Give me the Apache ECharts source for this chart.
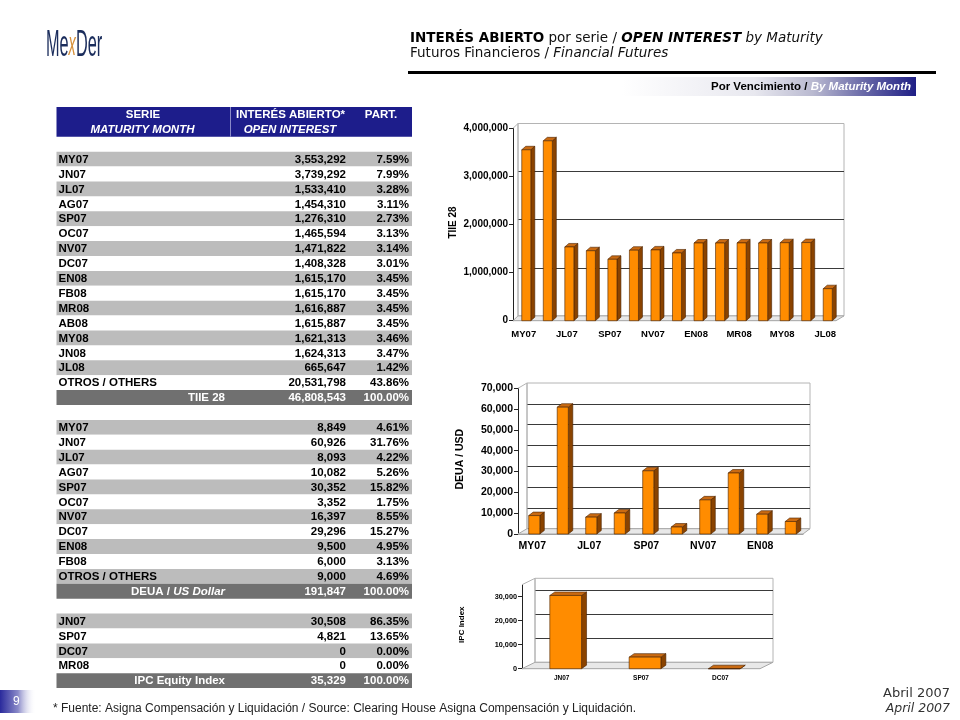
<!DOCTYPE html>
<html><head><meta charset="utf-8">
<script src="https://cdn.jsdelivr.net/npm/echarts@6.0.0/dist/echarts.min.js"></script>
<style>html,body{margin:0;padding:0;background:#fff}#c{width:960px;height:720px}</style>
</head><body><div id="c"></div>
<script>
// ---------- DATA ----------
const tiieSeries = ['MY07','JN07','JL07','AG07','SP07','OC07','NV07','DC07','EN08','FB08','MR08','AB08','MY08','JN08','JL08'];
const tiieValues = [3553292,3739292,1533410,1454310,1276310,1465594,1471822,1408328,1615170,1615170,1616887,1615887,1621313,1624313,665647];
const tiiePart = ['7.59%','7.99%','3.28%','3.11%','2.73%','3.13%','3.14%','3.01%','3.45%','3.45%','3.45%','3.45%','3.46%','3.47%','1.42%'];
const tiieOthers = [20531798, '43.86%'];
const tiieTotal = [46808543, '100.00%'];

const deuaSeries = ['MY07','JN07','JL07','AG07','SP07','OC07','NV07','DC07','EN08','FB08'];
const deuaValues = [8849,60926,8093,10082,30352,3352,16397,29296,9500,6000];
const deuaPart = ['4.61%','31.76%','4.22%','5.26%','15.82%','1.75%','8.55%','15.27%','4.95%','3.13%'];
const deuaOthers = [9000, '4.69%'];
const deuaTotal = [191847, '100.00%'];

const ipcSeries = ['JN07','SP07','DC07','MR08'];
const ipcValues = [30508,4821,0,0];
const ipcPart = ['86.35%','13.65%','0.00%','0.00%'];
const ipcTotal = [35329, '100.00%'];
const ipcChartSeries = ['JN07','SP07','DC07'];
const ipcChartValues = [30508,4821,0];

const tiieAxis = {max: 4000000, interval: 1000000};
const deuaAxis = {max: 70000, interval: 10000};
const ipcAxis = {max: 35000, interval: 10000};

// ---------- HELPERS ----------
const SANS = 'Liberation Sans, Arial, sans-serif';
const VERD = 'DejaVu Sans, Verdana, sans-serif';
const fmt = v => Number(v).toLocaleString('en-US');
const g = [];

function text(x, y, str, o) {
  o = o || {};
  g.push({
    type: 'text', x: x, y: y, silent: true, z: o.z || 5,
    rotation: o.rotation || 0, scaleX: o.scaleX || 1,
    style: Object.assign({
      text: str, fill: o.fill || '#000', fontSize: o.size || 11.5,
      fontFamily: o.family || SANS, fontWeight: o.weight || 'normal',
      fontStyle: o.style || 'normal',
      align: o.align || 'left', verticalAlign: o.valign || 'middle'
    }, o.rich ? {rich: o.rich} : {})
  });
}

// ---------- HEADER ----------
text(46, 46, '{m|Me}{x|x}{m|Der}', {scaleX: 0.44, rich: {
  m: {fill: '#1b2d5c', fontSize: 37, fontFamily: SANS},
  x: {fill: '#d7913c', fontSize: 33, fontFamily: SANS, fontStyle: 'italic'}
}});
const TS = 13.5;
const titleRich = {
  b: {fontFamily: VERD, fontSize: TS, fontWeight: 'bold', fill: '#000'},
  n: {fontFamily: VERD, fontSize: TS, fill: '#111'},
  bi: {fontFamily: VERD, fontSize: TS, fontWeight: 'bold', fontStyle: 'italic', fill: '#000'},
  i: {fontFamily: VERD, fontSize: TS, fontStyle: 'italic', fill: '#111'}
};
text(410, 38, '{b|INTERÉS ABIERTO}{n| por serie / }{bi|OPEN INTEREST}{i| by Maturity}', {rich: titleRich});
text(410, 53, '{n|Futuros Financieros / }{i|Financial Futures}', {rich: titleRich});
g.push({type: 'rect', silent: true, shape: {x: 408, y: 71, width: 528, height: 3}, style: {fill: '#000'}});

g.push({type: 'rect', silent: true, shape: {x: 622, y: 77, width: 294, height: 19}, style: {
  fill: {type: 'linear', x: 0, y: 0, x2: 1, y2: 0, colorStops: [
    {offset: 0, color: '#ffffff'}, {offset: 0.45, color: '#e8e8ef'}, {offset: 0.65, color: '#b9b9d0'},
    {offset: 0.82, color: '#6a6aa8'}, {offset: 1, color: '#1f1f86'}]}
}});
text(911, 86.5, '{a|Por Vencimiento / }{b|By Maturity Month}', {align: 'right', rich: {
  a: {fontFamily: SANS, fontSize: 11.5, fontWeight: 'bold', fill: '#000'},
  b: {fontFamily: SANS, fontSize: 11.5, fontWeight: 'bold', fontStyle: 'italic', fill: '#fff'}
}});

// ---------- TABLE ----------
const T = {x0: 56.5, x1: 412, top: 107, h: 14.9, labelX: 58.5, valX: 346, partX: 409, totX: 225};
const rowY = i => T.top + i * T.h;
function band(i, fill) {
  g.push({type: 'rect', silent: true, shape: {x: T.x0, y: rowY(i), width: T.x1 - T.x0, height: T.h}, style: {fill: fill}});
}
// header
g.push({type: 'rect', silent: true, shape: {x: T.x0, y: rowY(0), width: T.x1 - T.x0, height: 2 * T.h}, style: {fill: '#1d1d8b'}});
g.push({type: 'line', silent: true, shape: {x1: 230.5, y1: rowY(0), x2: 230.5, y2: rowY(2)}, style: {stroke: '#8a8ac8', lineWidth: 1}});
const hw = {fill: '#fff', weight: 'bold', size: 11.5};
text(143, 115, 'SERIE', Object.assign({align: 'center'}, hw));
text(142.5, 129.5, 'MATURITY MONTH', Object.assign({align: 'center', style: 'italic'}, hw));
text(236, 115, 'INTERÉS ABIERTO*', hw);
text(290, 129.5, 'OPEN INTEREST', Object.assign({align: 'center', style: 'italic'}, hw));
text(381, 115, 'PART.', Object.assign({align: 'center'}, hw));

const rowFont = {weight: 'bold', size: 11.5};
function section(start, names, values, parts, others, total, totalRich) {
  let r = start;
  const items = names.map((n, k) => [n, values[k], parts[k]]);
  if (others) items.push(['OTROS / OTHERS', others[0], others[1]]);
  items.forEach((it, k) => {
    band(r, k % 2 === 0 ? '#bcbcbc' : '#ffffff');
    const cy = rowY(r) + T.h / 2 + 0.5;
    text(T.labelX, cy, it[0], rowFont);
    text(T.valX, cy, fmt(it[1]), Object.assign({align: 'right'}, rowFont));
    text(T.partX, cy, it[2], Object.assign({align: 'right'}, rowFont));
    r++;
  });
  band(r, '#707070');
  const cy = rowY(r) + T.h / 2 + 0.5;
  text(T.totX, cy, totalRich, {align: 'right', rich: {
    w: {fill: '#fff', fontWeight: 'bold', fontSize: 11.5, fontFamily: SANS},
    wi: {fill: '#fff', fontWeight: 'bold', fontStyle: 'italic', fontSize: 11.5, fontFamily: SANS}
  }});
  text(T.valX, cy, fmt(total[0]), Object.assign({align: 'right', fill: '#fff'}, rowFont));
  text(T.partX, cy, total[1], Object.assign({align: 'right', fill: '#fff'}, rowFont));
}
section(3, tiieSeries, tiieValues, tiiePart, tiieOthers, tiieTotal, '{w|TIIE 28}');
section(21, deuaSeries, deuaValues, deuaPart, deuaOthers, deuaTotal, '{w|DEUA / }{wi|US Dollar}');
section(34, ipcSeries, ipcValues, ipcPart, null, ipcTotal, '{w|IPC Equity Index}');

// ---------- FOOTER ----------
g.push({type: 'rect', silent: true, shape: {x: 0, y: 690, width: 36, height: 23}, style: {
  fill: {type: 'linear', x: 0, y: 0, x2: 1, y2: 0, colorStops: [
    {offset: 0, color: '#2a2a9c'}, {offset: 0.5, color: '#8a8ac8'}, {offset: 1, color: 'rgba(255,255,255,0)'}]}
}});
text(13, 701.5, '9', {fill: '#fff', size: 12});
text(53, 709, '* Fuente: Asigna Compensación y Liquidación / Source: Clearing House Asigna Compensación y Liquidación.', {size: 12, fill: '#222'});
text(950, 694, 'Abril 2007', {align: 'right', family: VERD, size: 13, fill: '#333'});
text(950, 709, 'April 2007', {align: 'right', family: VERD, size: 12.5, style: 'italic', fill: '#333'});

// ---------- CHARTS ----------
const charts = [
  {cats: tiieSeries, vals: tiieValues, axis: tiieAxis, name: 'TIIE 28', nameX: 453, nameSize: 10,
   front: {left: 513, top: 128.3, width: 323, height: 192.4}, back: {left: 518, top: 123.5, width: 326, height: 192.4},
   bar: {ratio: 0.42, off: 2.5, dx: 4, dy: 3.5}, xInt: 1, xFont: 9.5, yFont: 10, xMargin: 9},
  {cats: deuaSeries, vals: deuaValues, axis: deuaAxis, name: 'DEUA / USD', nameX: 460, nameSize: 10.5,
   front: {left: 518, top: 388.3, width: 285, height: 145.7}, back: {left: 527, top: 383, width: 283, height: 145.7},
   bar: {ratio: 0.39, off: 2, dx: 4.5, dy: 3.5}, xInt: 1, xFont: 10.5, yFont: 10.5, xMargin: 7},
  {cats: ipcChartSeries, vals: ipcChartValues, axis: ipcAxis, name: 'IPC Index', nameX: 462, nameSize: 8,
   front: {left: 522, top: 584.7, width: 238, height: 84}, back: {left: 535, top: 578.3, width: 238, height: 84},
   bar: {ratio: 0.40, off: 4, dx: 5, dy: 3.5}, xInt: 0, xFont: 6.5, yFont: 7.3, xMargin: 6}
];

function bar3D(cfg) {
  return function (params, api) {
    const i = api.value(0), v = api.value(1);
    const top = api.coord([i, v]);
    const base = api.coord([i, 0]);
    const bw = api.size([1, 0])[0] * cfg.ratio;
    const x = top[0] - bw / 2 + cfg.off;
    const yt = top[1], yb = base[1], dx = cfg.dx, dy = cfg.dy;
    const stroke = '#4a2200';
    return {type: 'group', children: [
      {type: 'polygon', shape: {points: [[x + bw, yt], [x + bw + dx, yt - dy], [x + bw + dx, yb - dy], [x + bw, yb]]},
       style: {fill: '#8a4300', stroke: stroke, lineWidth: 0.6}},
      {type: 'polygon', shape: {points: [[x, yt], [x + dx, yt - dy], [x + bw + dx, yt - dy], [x + bw, yt]]},
       style: {fill: '#c96a12', stroke: stroke, lineWidth: 0.6}},
      {type: 'rect', shape: {x: x, y: yt, width: bw, height: yb - yt},
       style: {fill: '#ff8c00', stroke: stroke, lineWidth: 0.6}}
    ]};
  };
}

const grid = [], xAxis = [], yAxis = [], series = [];
charts.forEach((c, k) => {
  const f = c.front, b = c.back;
  grid.push({left: f.left, top: f.top, width: f.width, height: f.height, containLabel: false});
  grid.push({left: b.left, top: b.top, width: b.width, height: b.height, show: true,
             backgroundColor: '#ffffff', borderColor: '#b4b4b4', borderWidth: 1});
  xAxis.push({type: 'category', gridIndex: 2 * k, data: c.cats,
    axisLine: {show: true, lineStyle: {color: '#9a9a9a'}}, axisTick: {show: false},
    axisLabel: {interval: c.xInt, fontSize: c.xFont, fontWeight: 'bold', color: '#000', fontFamily: SANS, margin: c.xMargin}});
  xAxis.push({type: 'category', gridIndex: 2 * k + 1, data: c.cats, show: false});
  yAxis.push({type: 'value', gridIndex: 2 * k, min: 0, max: c.axis.max, interval: c.axis.interval,
    axisLine: {show: true, lineStyle: {color: '#222'}}, axisTick: {show: true, length: 4, lineStyle: {color: '#222'}},
    splitLine: {show: false},
    axisLabel: {formatter: v => fmt(v), fontSize: c.yFont, fontWeight: 'bold', color: '#000', fontFamily: SANS, margin: 5,
                showMaxLabel: c.axis.max % c.axis.interval === 0}});
  yAxis.push({type: 'value', gridIndex: 2 * k + 1, min: 0, max: c.axis.max, interval: c.axis.interval,
    axisLine: {show: false}, axisTick: {show: false}, axisLabel: {show: false},
    splitLine: {show: true, showMinLine: false, showMaxLine: false, lineStyle: {color: '#3a3a3a', width: 1}}});
  series.push({type: 'custom', xAxisIndex: 2 * k, yAxisIndex: 2 * k, z: 3,
    data: c.vals.map((v, i) => [i, v]), renderItem: bar3D(c.bar), clip: false});

  // floor and left wall (3D frame)
  const fb = f.top + f.height, bb = b.top + b.height;
  g.push({type: 'polygon', silent: true, z: 1, shape: {points: [[f.left, fb], [f.left + f.width, fb], [b.left + b.width, bb], [b.left, bb]]},
          style: {fill: '#e8e8e8', stroke: '#a8a8a8', lineWidth: 1}});
  g.push({type: 'polyline', silent: true, z: 1, shape: {points: [[f.left, f.top], [b.left, b.top], [b.left, bb]]},
          style: {stroke: '#b4b4b4', lineWidth: 1, fill: null}});
  // axis title
  text(c.nameX, f.top + f.height / 2 - 2, c.name, {rotation: Math.PI / 2, align: 'center', weight: 'bold', size: c.nameSize});
});

const chart = echarts.init(document.getElementById('c'), null, {renderer: 'canvas'});
chart.setOption({
  animation: false,
  backgroundColor: '#ffffff',
  grid: grid, xAxis: xAxis, yAxis: yAxis, series: series,
  graphic: {elements: g}
});
</script>
</body></html>
